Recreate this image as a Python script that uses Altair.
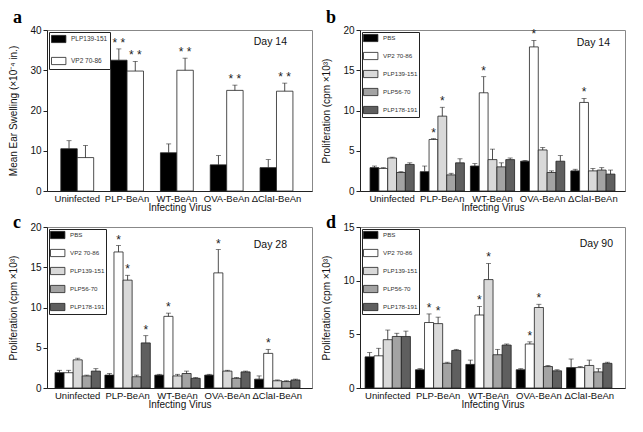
import altair as alt
import pandas as pd

categories = ["Uninfected", "PLP-BeAn", "WT-BeAn", "OVA-BeAn", "ΔClaI-BeAn"]

# Panel a: ear swelling, day 14
a_series = ["PLP139-151", "VP2 70-86"]
a_colors = ["#000000", "#ffffff"]
a_values = [[10.5, 8.3], [32.5, 29.8], [9.5, 30.0], [6.5, 25.0], [5.8, 24.8]]
a_tops = [[12.5, 11.3], [35.3, 32.2], [11.7, 33.0], [8.8, 26.3], [7.8, 26.8]]
a_sig = [["", ""], ["* *", "* *"], ["", "* *"], ["", "* *"], ["", "* *"]]

# Proliferation panels
p_series = ["PBS", "VP2 70-86", "PLP139-151", "PLP56-70", "PLP178-191"]
p_colors = ["#000000", "#ffffff", "#d9d9d9", "#a3a3a3", "#5f5f5f"]

b_values = [[2.9, 2.8, 4.1, 2.3, 3.3], [2.4, 6.4, 9.3, 2.0, 3.5], [3.1, 12.2, 3.9, 3.0, 3.9],
            [3.7, 17.9, 5.1, 2.3, 3.7], [2.5, 11.0, 2.5, 2.6, 2.1]]
b_tops = [[3.1, 2.9, 4.2, 2.4, 3.5], [3.1, 6.5, 10.4, 2.2, 4.0], [3.4, 14.2, 5.2, 3.5, 4.1],
          [3.8, 18.7, 5.4, 2.5, 4.4], [2.7, 11.5, 2.8, 2.9, 2.6]]
b_sig = [["", "", "", "", ""], ["", "*", "*", "", ""], ["", "*", "", "", ""],
         ["", "*", "", "", ""], ["", "*", "", "", ""]]

c_values = [[1.9, 1.9, 3.5, 1.5, 2.1], [1.6, 16.9, 13.4, 1.4, 5.6], [1.6, 8.9, 1.5, 1.8, 1.2],
            [1.6, 14.3, 2.1, 1.2, 2.0], [1.1, 4.3, 0.9, 0.8, 1.0]]
c_tops = [[2.2, 2.2, 3.7, 1.6, 2.4], [1.8, 17.7, 14.0, 1.6, 6.5], [1.7, 9.3, 1.7, 2.1, 1.3],
          [1.7, 17.2, 2.2, 1.3, 2.1], [1.5, 4.8, 1.0, 0.9, 1.1]]
c_sig = [["", "", "", "", ""], ["", "*", "*", "", "*"], ["", "*", "", "", ""],
         ["", "*", "", "", ""], ["", "*", "", "", ""]]

d_values = [[2.9, 3.0, 4.5, 4.8, 4.8], [1.7, 6.1, 6.0, 2.3, 3.5], [2.2, 6.8, 10.1, 3.1, 4.0],
            [1.7, 4.1, 7.5, 2.0, 1.6], [1.9, 1.9, 2.1, 1.5, 2.3]]
d_tops = [[3.3, 3.7, 5.4, 5.1, 5.3], [1.8, 6.9, 6.6, 2.4, 3.6], [2.6, 7.6, 11.6, 3.6, 4.1],
          [1.8, 4.3, 7.8, 2.1, 1.7], [2.7, 2.0, 2.6, 1.8, 2.4]]
d_sig = [["", "", "", "", ""], ["", "*", "*", "", ""], ["", "*", "*", "", ""],
         ["", "*", "*", "", ""], ["", "", "", "", ""]]

SANS = "Liberation Sans"
W, H = 265, 161


def panel(letter, day, series, colors, values, tops, sig, ymax, yticks, ytitle,
          xpad, legend_font, sym_size, row_pad, leg_pad, day_pos, title_offset):
    rows = []
    for ci, cat in enumerate(categories):
        for si, s in enumerate(series):
            rows.append(dict(cat=cat, series=s, value=values[ci][si],
                             top=tops[ci][si], sig=sig[ci][si]))
    df = pd.DataFrame(rows)
    base = alt.Chart(df)
    x = alt.X("cat:N", sort=categories,
              scale=alt.Scale(paddingInner=xpad[0], paddingOuter=xpad[1], align=xpad[2]),
              axis=alt.Axis(title="Infecting Virus", labelAngle=0, ticks=False,
                            labelPadding=2, titlePadding=0, labelFontSize=9.5,
                            titleFontWeight="normal"))
    xo = alt.XOffset("series:N", sort=series,
                     scale=alt.Scale(domain=series, paddingInner=0, paddingOuter=0))
    yscale = alt.Scale(domain=[0, ymax], nice=False)
    yaxis = alt.Axis(title=ytitle, values=yticks, tickSize=4, labelPadding=2,
                     titlePadding=11, grid=False, titleFontWeight="normal")
    bars = base.mark_bar(stroke="#222222", strokeWidth=0.8).encode(
        x=x, xOffset=xo,
        y=alt.Y("value:Q", scale=yscale, axis=yaxis),
        color=alt.Color("series:N", sort=series,
                        scale=alt.Scale(domain=series, range=colors),
                        legend=alt.Legend(
                            title=None, orient="top-left", offset=2, padding=leg_pad,
                            strokeColor="#222222", fillColor="white",
                            symbolType="M-1,-0.8H2.2V0.8H-1Z",
                            symbolSize=sym_size, symbolStrokeColor="#222222",
                            symbolStrokeWidth=0.8, symbolOpacity=1,
                            labelFontSize=legend_font, labelFont=SANS,
                            labelColor="#333333",
                            labelOffset=10, rowPadding=row_pad)),
    )
    err = base.mark_rule(color="#222222", strokeWidth=0.8).encode(
        x=x, xOffset=xo,
        y=alt.Y("value:Q", scale=yscale, axis=yaxis), y2="top:Q")
    cap = base.mark_tick(color="#222222", thickness=0.8, size=5).encode(
        x=x, xOffset=xo, y=alt.Y("top:Q", scale=yscale, axis=yaxis))
    star = base.mark_text(baseline="bottom", dy=1, fontSize=12, font=SANS,
                          color="#222222").encode(
        x=x, xOffset=xo, y=alt.Y("top:Q", scale=yscale, axis=yaxis), text="sig:N")
    day_txt = alt.Chart(pd.DataFrame({"t": [day]})).mark_text(
        align="right", baseline="middle", fontSize=10.5, font=SANS, color="#111111").encode(
        x=alt.value(W - day_pos[0]), y=alt.value(day_pos[1]), text="t:N")
    return alt.layer(bars, err, cap, star, day_txt).properties(
        width=W, height=H,
        title=alt.TitleParams(letter, anchor="start", frame="bounds", dx=4,
                              font="Liberation Serif", fontSize=18,
                              fontWeight="bold", offset=title_offset))


pa = panel("a", "Day 14", a_series, a_colors, a_values, a_tops, a_sig, 40,
           [0, 10, 20, 30, 40], "Mean Ear Swelling (×10⁻⁴ in.)", (0.34, 0.33, 0.42),
           6.5, 81, 10, 2, (25, 12), -2)
pb = panel("b", "Day 14", p_series, p_colors, b_values, b_tops, b_sig, 20,
           [0, 5, 10, 15, 20], "Proliferation (cpm ×10³)", (0.12, 0.2, 0.5),
           6.2, 81, 6, 1, (15, 13), -2)
pc = panel("c", "Day 28", p_series, p_colors, c_values, c_tops, c_sig, 20,
           [0, 5, 10, 15, 20], "Proliferation (cpm ×10³)", (0.09, 0.2, 0.4),
           6.2, 81, 6, 1, (25, 18), -10)
pd_ = panel("d", "Day 90", p_series, p_colors, d_values, d_tops, d_sig, 15,
            [0, 5, 10, 15], "Proliferation (cpm ×10³)", (0.1, 0.18, 0.28),
            6.2, 81, 6, 1, (12, 17), -10)

row1 = alt.hconcat(pa, pb, spacing=8).resolve_scale(color="independent", xOffset="independent")
row2 = alt.hconcat(pc, pd_, spacing=8).resolve_scale(color="independent", xOffset="independent")
chart = alt.vconcat(row1, row2, spacing=0).resolve_scale(
    color="independent", xOffset="independent"
).configure(padding=0).configure_view(stroke="#888888").configure_axis(
    domainColor="#222222", tickColor="#222222", labelFont=SANS, titleFont=SANS,
    labelFontSize=10, titleFontSize=10, titleFontWeight="normal", labelColor="#111111",
    titleColor="#111111"
)

chart.save("out.html", embed_options={"renderer": "svg", "actions": False})
